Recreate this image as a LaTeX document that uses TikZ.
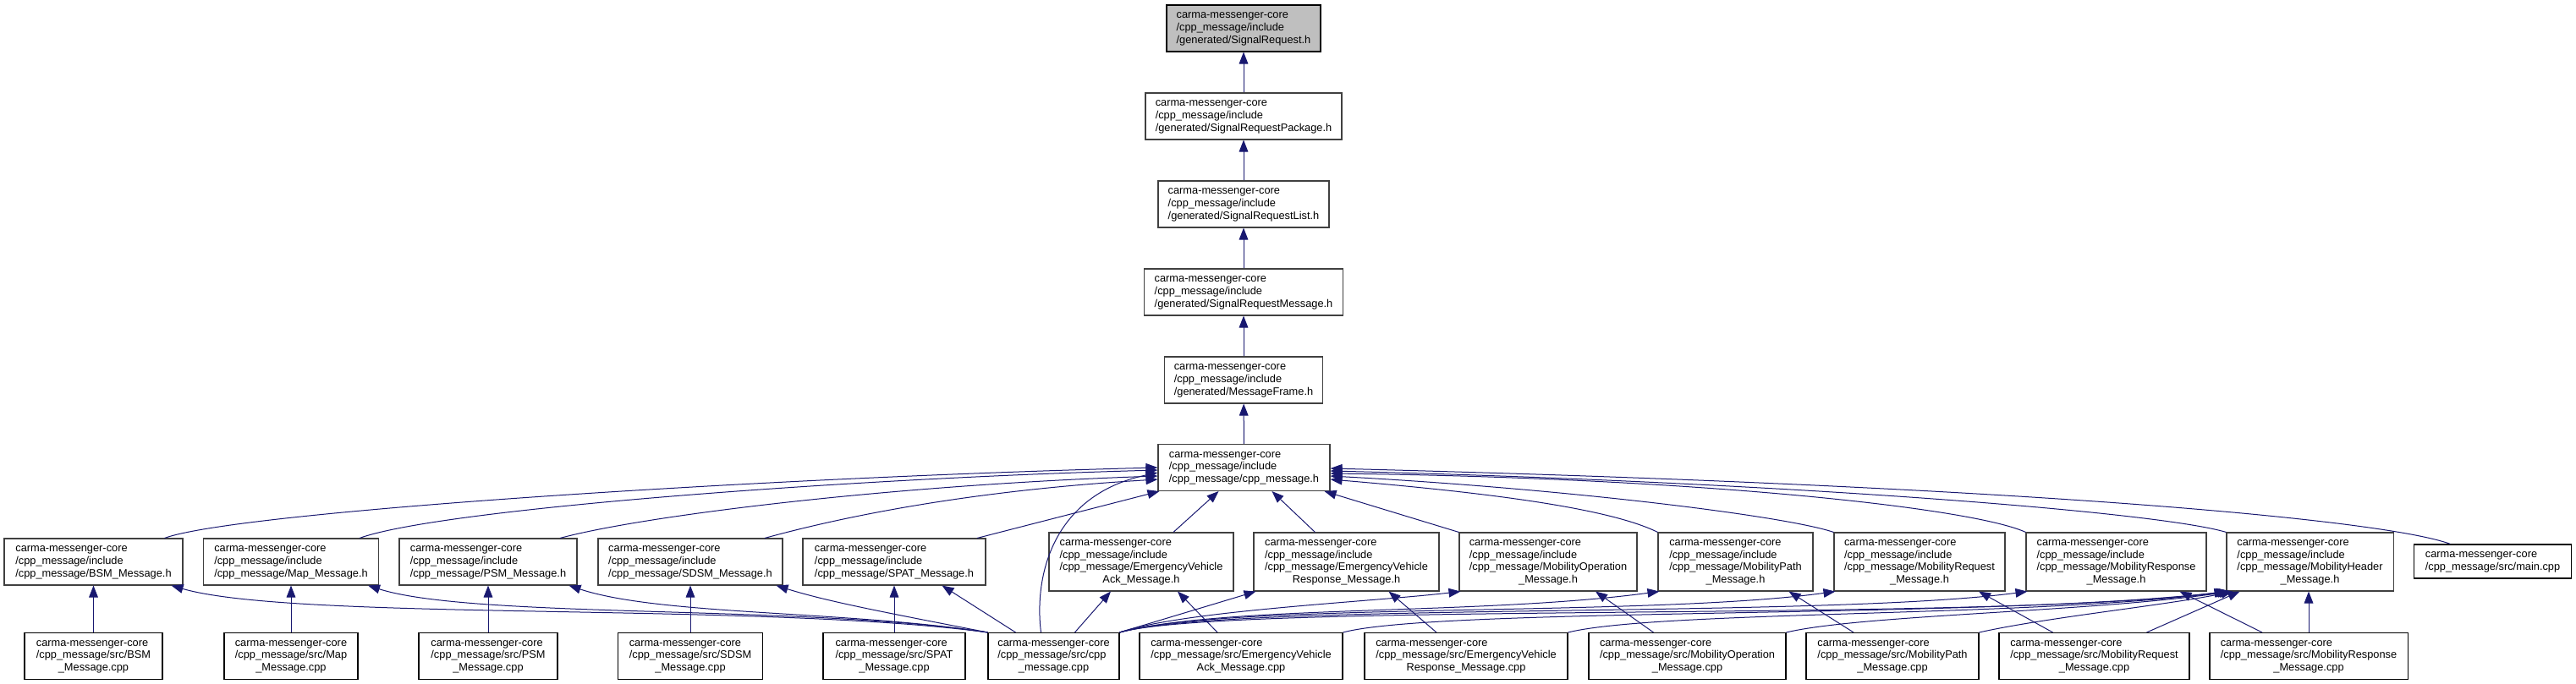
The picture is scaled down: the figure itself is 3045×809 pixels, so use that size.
\documentclass[tikz,border=0pt]{standalone}
\usepackage{fontspec}
\setmainfont{Liberation Sans}
\usetikzlibrary{arrows.meta,calc}

\definecolor{edgeblue}{HTML}{191970}
\definecolor{grey75}{HTML}{BFBFBF}

% label: left aligned lines, last line centred
\newcommand{\lbl}[2]{\begin{tabular}{@{}l@{}}#1\\\multicolumn{1}{@{}c@{}}{#2}\end{tabular}}

\tikzset{
  file/.style={draw=black, fill=white, line width=0.8pt, inner sep=0pt,
    font=\fontsize{9.6pt}{11pt}\selectfont, minimum height=41.25pt},
  hdr/.style={file, draw=black!75},
  src/.style={file},
  four/.style={minimum height=51.75pt},
  two/.style={minimum height=30pt},
  wd/.style={minimum width=#1*0.75pt},
  incl/.style={draw=edgeblue, line width=0.75pt, -{Triangle[length=10.5pt,width=8pt]}},
}

\begin{document}
\begin{tikzpicture}[x=0.75pt, y=-0.75pt]
  \useasboundingbox (0,0) rectangle (3045,809);
  % generated headers
  \node[hdr, draw=black, fill=grey75, wd=182] (sreq) at (1470,33.5) {\lbl{carma-messenger-core\\/cpp\_message/include}{/generated/SignalRequest.h}};
  \node[hdr, wd=232] (srpkg) at (1470,137.5) {\lbl{carma-messenger-core\\/cpp\_message/include}{/generated/SignalRequestPackage.h}};
  \node[hdr, wd=202] (srlist) at (1470,241.5) {\lbl{carma-messenger-core\\/cpp\_message/include}{/generated/SignalRequestList.h}};
  \node[hdr, wd=235] (srmsg) at (1470,345.5) {\lbl{carma-messenger-core\\/cpp\_message/include}{/generated/SignalRequestMessage.h}};
  \node[hdr, wd=187] (frame) at (1470,449.5) {\lbl{carma-messenger-core\\/cpp\_message/include}{/generated/MessageFrame.h}};
  \node[hdr, wd=203] (cpph) at (1470.5,553) {\lbl{carma-messenger-core\\/cpp\_message/include}{/cpp\_message/cpp\_message.h}};
  % message headers
  \foreach \n/\nm/\x/\w in {bsm/BSM/110.5/211, map/Map/344/207, psm/PSM/577/210, sdsm/SDSM/816/218, spat/SPAT/1057/216} {
    \node[hdr, wd=\w] (h-\n) at (\x,664.5) {\lbl{carma-messenger-core\\/cpp\_message/include}{/cpp\_message/\nm\_Message.h}};
  }
  \foreach \n/\nm/\rest/\x/\w in {evack/EmergencyVehicle/Ack\_Message.h/1349/218,
      evresp/EmergencyVehicle/Response\_Message.h/1591.5/219,
      mobop/MobilityOperation/\_Message.h/1830/210,
      mobpath/MobilityPath/\_Message.h/2051.5/183,
      mobreq/MobilityRequest/\_Message.h/2269/202,
      mobresp/MobilityResponse/\_Message.h/2501.5/213,
      mobhdr/MobilityHeader/\_Message.h/2730.5/197} {
    \node[hdr, four, wd=\w] (h-\n) at (\x,664.5) {\lbl{carma-messenger-core\\/cpp\_message/include\\/cpp\_message/\nm}{\rest}};
  }
  \node[src, two, wd=186] (mainsrc) at (2946.5,664) {\lbl{carma-messenger-core}{/cpp\_message/src/main.cpp}};
  % sources
  \foreach \n/\nm/\rest/\x/\w in {bsm/BSM/\_Message.cpp/110.5/163, map/Map/\_Message.cpp/344/158,
      psm/PSM/\_Message.cpp/577/164, sdsm/SDSM/\_Message.cpp/816/171, spat/SPAT/\_Message.cpp/1057/168,
      cpp/cpp/\_message.cpp/1245.5/155,
      evack/EmergencyVehicle/Ack\_Message.cpp/1467/240,
      evresp/EmergencyVehicle/Response\_Message.cpp/1733/240,
      mobop/MobilityOperation/\_Message.cpp/1994.5/233,
      mobpath/MobilityPath/\_Message.cpp/2237/204,
      mobreq/MobilityRequest/\_Message.cpp/2475.5/225,
      mobresp/MobilityResponse/\_Message.cpp/2729/234} {
    \node[src, wd=\w] (c-\n) at (\x,776) {\lbl{carma-messenger-core\\/cpp\_message/src/\nm}{\rest}};
  }

  % include chain
  \foreach \a/\b in {srpkg/sreq, srlist/srpkg, srmsg/srlist, frame/srmsg, cpph/frame}
    \draw[incl] (\a) -- (\b);
  % headers -> cpp_message.h
  \draw[incl] ($(h-bsm.north)+(84,0)$) .. controls (280,605) and (900,565) .. (cpph.west);
  \draw[incl] ($(h-map.north)+(81,0)$) .. controls (520,602) and (1000,566) .. ($(cpph.west)+(0,3)$);
  \draw[incl] ($(h-psm.north)+(85,0)$) .. controls (760,610) and (1050,574) .. ($(cpph.west)+(0,10)$);
  \draw[incl] ($(h-sdsm.north)+(88,0)$) .. controls (1000,610) and (1150,580) .. ($(cpph.west)+(0,14)$);
  \draw[incl] ($(c-cpp.north)+(-15,0)$) .. controls (1222,680) and (1245,585) .. ($(cpph.west)+(0,6)$);
  \draw[incl] ($(h-spat.north)+(98,0)$) -- ($(cpph.south west)+(2,0)$);
  \draw[incl] ($(h-evack.north)+(38,0)$) -- ($(cpph.south)+(-30,0)$);
  \draw[incl] ($(h-evresp.north)+(-37,0)$) -- ($(cpph.south)+(33,0)$);
  \draw[incl] (h-mobop.north west) -- ($(cpph.south east)+(-7,0)$);
  \draw[incl] (h-mobpath.north west) .. controls (1900,600) and (1750,582) .. ($(cpph.east)+(0,14)$);
  \draw[incl] (h-mobreq.north west) .. controls (2110,610) and (1850,578) .. ($(cpph.east)+(0,10)$);
  \draw[incl] (h-mobresp.north west) .. controls (2330,600) and (2000,565) .. ($(cpph.east)+(0,7)$);
  \draw[incl] (h-mobhdr.north west) .. controls (2550,605) and (2100,570) .. ($(cpph.east)+(0,4)$);
  \draw[incl] ($(mainsrc.north)+(-50,0)$) .. controls (2820,615) and (2400,575) .. ($(cpph.east)+(0,1)$);
  % sources -> headers
  \foreach \n in {bsm,map,psm,sdsm,spat}
    \draw[incl] (c-\n) -- (h-\n);
  \draw[incl] (c-cpp.north west) .. controls (900,712) and (350,735) .. ($(h-bsm.south east)+(-14,0)$);
  \draw[incl] (c-cpp.north west) .. controls (950,715) and (560,732) .. ($(h-map.south east)+(-13,0)$);
  \draw[incl] (c-cpp.north west) .. controls (1000,722) and (780,728) .. ($(h-psm.south east)+(-10,0)$);
  \draw[incl] (c-cpp.north west) .. controls (1050,725) and (980,712) .. ($(h-sdsm.south east)+(-8,0)$);
  \draw[incl] ($(c-cpp.north)+(-45,0)$) -- ($(h-spat.south east)+(-52,0)$);
  \draw[incl] ($(c-cpp.north)+(25,0)$) -- ($(h-evack.south)+(-36,0)$);
  \draw[incl] (c-cpp.north east) -- ($(h-evresp.south west)+(3,0)$);
  \draw[incl] (c-cpp.north east) .. controls (1400,722) and (1620,712) .. ($(h-mobop.south west)+(2,0)$);
  \draw[incl] (c-cpp.north east) .. controls (1450,715) and (1750,728) .. ($(h-mobpath.south west)+(2,0)$);
  \draw[incl] (c-cpp.north east) .. controls (1450,712) and (1950,730) .. ($(h-mobreq.south west)+(2,0)$);
  \draw[incl] (c-cpp.north east) .. controls (1450,712) and (2150,732) .. ($(h-mobresp.south west)+(2,0)$);
  \draw[incl] (c-cpp.north east) .. controls (1450,712) and (2350,736) .. (h-mobhdr.south west);
  \draw[incl] ($(c-evack.north)+(-28,0)$) -- ($(h-evack.south)+(43,0)$);
  \draw[incl] (c-evack.north east) .. controls (1700,718) and (2350,732) .. ($(h-mobhdr.south west)+(2,0)$);
  \draw[incl] ($(c-evresp.north)+(-35,0)$) -- ($(h-evresp.south)+(50,0)$);
  \draw[incl] (c-evresp.north east) .. controls (1960,722) and (2400,730) .. ($(h-mobhdr.south west)+(4,0)$);
  \draw[incl] ($(c-mobop.north)+(-40,0)$) -- ($(h-mobop.south)+(56,0)$);
  \draw[incl] (c-mobop.north east) .. controls (2200,727) and (2470,724) .. ($(h-mobhdr.south west)+(6,0)$);
  \draw[incl] ($(c-mobpath.north)+(-46,0)$) -- ($(h-mobpath.south)+(63,0)$);
  \draw[incl] (c-mobpath.north east) .. controls (2420,730) and (2560,716) .. ($(h-mobhdr.south west)+(8,0)$);
  \draw[incl] ($(c-mobreq.north)+(-49,0)$) -- ($(h-mobreq.south)+(70,0)$);
  \draw[incl] ($(c-mobreq.north)+(62,0)$) -- ($(h-mobhdr.south west)+(16,0)$);
  \draw[incl] ($(c-mobresp.north)+(-55,0)$) -- ($(h-mobresp.south)+(75,0)$);
  \draw[incl] (c-mobresp.north) -- (c-mobresp.north |- h-mobhdr.south);
\end{tikzpicture}
\end{document}
